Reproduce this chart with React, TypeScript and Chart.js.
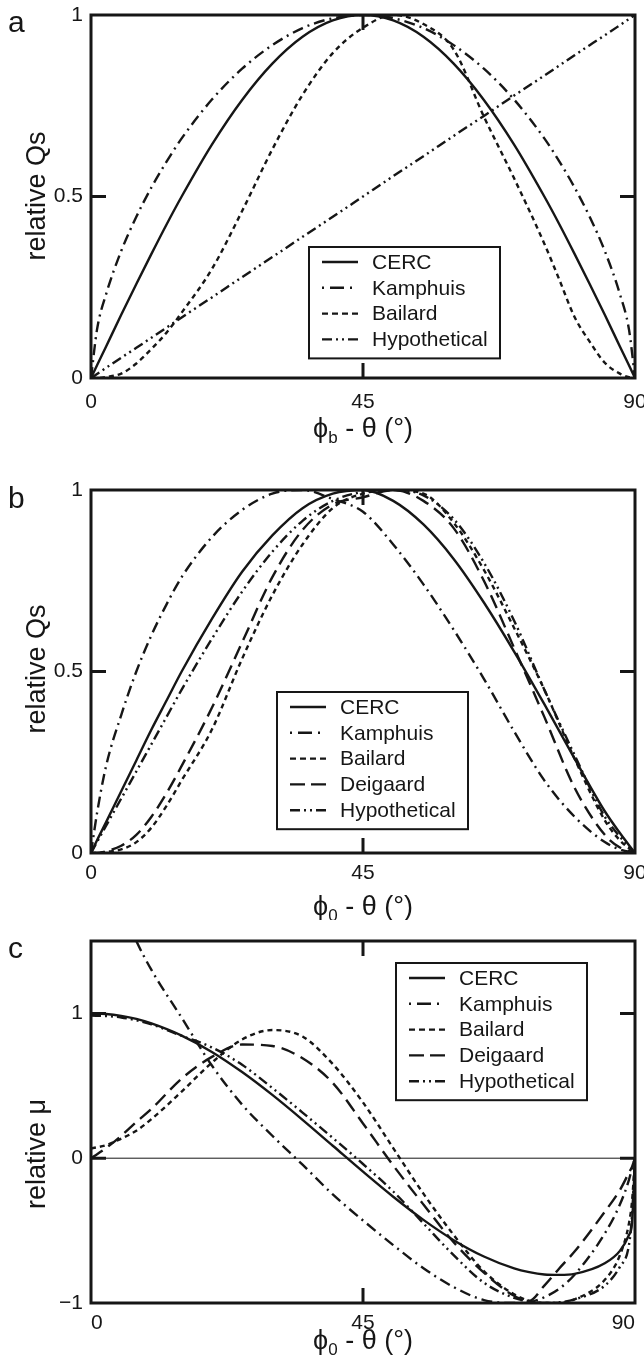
import React, { useEffect, useRef } from 'react';
import { Chart, registerables } from 'chart.js';

Chart.register(...registerables);

const INK = '#161616';
const FAMILY = "'Liberation Sans', Arial, Helvetica, sans-serif";

// ---------------- panel a : relative Qs vs phi_b - theta ----------------
const anglesA = [0, 1, 2.5, 5, 7.5, 10, 12.5, 15, 20, 25, 30, 35, 40, 45, 50, 55, 60, 65, 70, 75, 77.5, 80, 82.5, 85, 87.5, 89, 90];
const cercA = [0, 0.035, 0.087, 0.174, 0.259, 0.342, 0.423, 0.5, 0.643, 0.766, 0.866, 0.94, 0.985, 1.0, 0.985, 0.94, 0.866, 0.766, 0.643, 0.5, 0.423, 0.342, 0.259, 0.174, 0.087, 0.035, 0];
const kamphuisA = [0, 0.134, 0.231, 0.35, 0.444, 0.525, 0.596, 0.66, 0.767, 0.852, 0.917, 0.964, 0.991, 1.0, 0.991, 0.964, 0.917, 0.852, 0.767, 0.66, 0.596, 0.525, 0.444, 0.35, 0.231, 0.134, 0];
const bailardA = [0, 0, 0.003, 0.012, 0.04, 0.08, 0.125, 0.18, 0.3, 0.46, 0.63, 0.78, 0.895, 0.965, 1.0, 0.975, 0.905, 0.72, 0.55, 0.37, 0.27, 0.168, 0.1, 0.042, 0.012, 0.002, 0];
const hypotheticalA = [0, 0.011, 0.028, 0.056, 0.083, 0.111, 0.139, 0.167, 0.222, 0.278, 0.333, 0.389, 0.444, 0.5, 0.556, 0.611, 0.667, 0.722, 0.778, 0.833, 0.861, 0.889, 0.917, 0.944, 0.972, 0.989, 1.0];

// ---------------- panel b : relative Qs vs phi_0 - theta ----------------
const anglesB = [0, 1, 2.5, 5, 7.5, 10, 12.5, 15, 20, 25, 30, 35, 40, 45, 50, 55, 60, 65, 70, 75, 80, 85, 87.5, 90];
const cercB = [0, 0.035, 0.085, 0.17, 0.255, 0.34, 0.42, 0.5, 0.645, 0.775, 0.875, 0.95, 0.99, 1.0, 0.97, 0.905, 0.81, 0.69, 0.555, 0.41, 0.26, 0.115, 0.055, 0];
const kamphuisB = [0, 0.11, 0.24, 0.38, 0.5, 0.6, 0.685, 0.76, 0.87, 0.945, 0.99, 1.0, 0.975, 0.94, 0.85, 0.74, 0.615, 0.48, 0.335, 0.2, 0.1, 0.03, 0.01, 0];
const bailardB = [0, 0, 0.003, 0.01, 0.03, 0.07, 0.13, 0.2, 0.34, 0.535, 0.71, 0.85, 0.95, 0.99, 1.0, 0.99, 0.91, 0.78, 0.62, 0.45, 0.26, 0.09, 0.035, 0];
const deigaardB = [0, 0, 0.005, 0.02, 0.05, 0.1, 0.165, 0.24, 0.4, 0.58, 0.76, 0.89, 0.96, 0.98, 1.0, 0.97, 0.895, 0.75, 0.565, 0.375, 0.18, 0.05, 0.015, 0];
const hypotheticalB = [0, 0.03, 0.075, 0.15, 0.225, 0.3, 0.375, 0.45, 0.59, 0.72, 0.83, 0.915, 0.97, 0.995, 1.0, 0.985, 0.92, 0.8, 0.64, 0.45, 0.27, 0.1, 0.045, 0];

// ---------------- panel c : relative mu vs phi_0 - theta ----------------
const anglesC = [0, 2.5, 5, 7.5, 10, 15, 20, 25, 30, 35, 40, 45, 50, 55, 60, 65, 70, 72.5, 75, 77.5, 80, 85, 87.5, 89, 89.5, 90];
const cercC = [1.0, 0.996, 0.983, 0.962, 0.931, 0.847, 0.734, 0.595, 0.437, 0.265, 0.086, -0.093, -0.266, -0.426, -0.566, -0.679, -0.761, -0.787, -0.803, -0.806, -0.799, -0.726, -0.64, -0.53, -0.45, 0];
const kamphuisC = [null, 2.1, 1.75, 1.5, 1.3, 0.97, 0.64, 0.37, 0.155, -0.045, -0.25, -0.43, -0.6, -0.76, -0.89, -0.98, -1.0, -0.995, -0.96, -0.9, -0.805, -0.52, -0.32, -0.15, -0.07, 0];
const bailardC = [0.067, 0.09, 0.135, 0.19, 0.27, 0.46, 0.66, 0.82, 0.885, 0.84, 0.65, 0.385, 0.07, -0.245, -0.53, -0.78, -0.94, -0.985, -1.0, -1.0, -0.975, -0.84, -0.67, -0.45, -0.3, 0];
const deigaardC = [0, 0.07, 0.155, 0.25, 0.34, 0.55, 0.7, 0.785, 0.775, 0.69, 0.52, 0.24, -0.05, -0.32, -0.58, -0.79, -0.95, -0.985, -0.88, -0.76, -0.645, -0.37, -0.22, -0.1, -0.06, 0];
const hypotheticalC = [0.985, 0.982, 0.972, 0.952, 0.925, 0.845, 0.765, 0.645, 0.485, 0.315, 0.14, -0.04, -0.23, -0.45, -0.67, -0.86, -0.965, -0.99, -1.0, -0.995, -0.975, -0.88, -0.75, -0.6, -0.4, 0];

// ---------------- ticks ----------------
const xTicks = [0, 45, 90];
const xTickLabels = ['0', '45', '90'];
const yTicksQ = [0, 0.5, 1];
const yTickLabelsQ = ['0', '0.5', '1'];
const yTicksMu = [-1, 0, 1];
const yTickLabelsMu = ['\u22121', '0', '1'];

const DASH: Record<string, number[]> = {
  CERC: [],
  Kamphuis: [11, 5, 2, 5],
  Bailard: [5, 4],
  Deigaard: [14, 7],
  Hypothetical: [10, 4, 2, 4, 2, 4],
};
const LEGEND_DASH: Record<string, number[]> = {
  CERC: [],
  Kamphuis: [2, 6, 14, 6, 2, 200],
  Bailard: [6, 4],
  Deigaard: [15, 6, 15, 200],
  Hypothetical: [10, 4, 2, 4, 2, 4, 10, 200],
};

type Series = { label: string; values: (number | null)[] };
type PanelDef = {
  letter: string;
  canvasTop: number;
  height: number;
  padTop: number;
  plotBottom: number;
  angles: number[];
  series: Series[];
  yMin: number;
  yMax: number;
  yTicks: number[];
  yTickLabels: string[];
  innerX: number[];
  innerY: number[];
  yTitle: string;
  yTitleY: number;
  xSub: string;
  xTitleBase: number;
  xLabelPad: number;
  xAlign: string;
  letterBase: number;
  legend: { left: number; top: number; width: number };
  zeroLine: boolean;
};

const panels: PanelDef[] = [
  {
    letter: 'a', canvasTop: 0, height: 460, padTop: 15, plotBottom: 378,
    angles: anglesA,
    series: [
      { label: 'CERC', values: cercA },
      { label: 'Kamphuis', values: kamphuisA },
      { label: 'Bailard', values: bailardA },
      { label: 'Hypothetical', values: hypotheticalA },
    ],
    yMin: 0, yMax: 1, yTicks: yTicksQ, yTickLabels: yTickLabelsQ,
    innerX: [45], innerY: [0.5],
    yTitle: 'relative Qs', yTitleY: 196,
    xSub: 'b', xTitleBase: 437, xLabelPad: 12, xAlign: 'center', letterBase: 32,
    legend: { left: 309, top: 247, width: 191 },
    zeroLine: false,
  },
  {
    letter: 'b', canvasTop: 460, height: 460, padTop: 30, plotBottom: 393,
    angles: anglesB,
    series: [
      { label: 'CERC', values: cercB },
      { label: 'Kamphuis', values: kamphuisB },
      { label: 'Bailard', values: bailardB },
      { label: 'Deigaard', values: deigaardB },
      { label: 'Hypothetical', values: hypotheticalB },
    ],
    yMin: 0, yMax: 1, yTicks: yTicksQ, yTickLabels: yTickLabelsQ,
    innerX: [45], innerY: [0.5],
    yTitle: 'relative Qs', yTitleY: 209,
    xSub: '0', xTitleBase: 455, xLabelPad: 8, xAlign: 'center', letterBase: 48,
    legend: { left: 277, top: 232, width: 191 },
    zeroLine: false,
  },
  {
    letter: 'c', canvasTop: 920, height: 445, padTop: 21, plotBottom: 383,
    angles: anglesC,
    series: [
      { label: 'CERC', values: cercC },
      { label: 'Kamphuis', values: kamphuisC },
      { label: 'Bailard', values: bailardC },
      { label: 'Deigaard', values: deigaardC },
      { label: 'Hypothetical', values: hypotheticalC },
    ],
    yMin: -1, yMax: 1.5, yTicks: yTicksMu, yTickLabels: yTickLabelsMu,
    innerX: [45], innerY: [0, 1],
    yTitle: 'relative \u03bc', yTitleY: 234,
    xSub: '0', xTitleBase: 429, xLabelPad: 8, xAlign: 'inner', letterBase: 38,
    legend: { left: 396, top: 43, width: 191 },
    zeroLine: true,
  },
];

function makeDecor(p: PanelDef) {
  return {
    id: 'decor_' + p.letter,
    afterDatasetsDraw(chart: any) {
      const { ctx, chartArea: ca, scales } = chart;
      const xs = scales.x;
      const ys = scales.y;
      ctx.save();
      ctx.strokeStyle = INK;
      ctx.fillStyle = INK;
      ctx.setLineDash([]);
      if (p.zeroLine) {
        const y0 = ys.getPixelForValue(0);
        ctx.lineWidth = 1;
        ctx.beginPath();
        ctx.moveTo(ca.left, y0);
        ctx.lineTo(ca.right, y0);
        ctx.stroke();
      }
      // frame
      ctx.lineWidth = 3;
      ctx.strokeRect(ca.left, ca.top, ca.right - ca.left, ca.bottom - ca.top);
      // inward ticks
      const TL = 15;
      ctx.lineWidth = 3;
      ctx.beginPath();
      p.innerX.forEach((v) => {
        const x = xs.getPixelForValue(v);
        ctx.moveTo(x, ca.top);
        ctx.lineTo(x, ca.top + TL);
        ctx.moveTo(x, ca.bottom);
        ctx.lineTo(x, ca.bottom - TL);
      });
      p.innerY.forEach((v) => {
        const y = ys.getPixelForValue(v);
        ctx.moveTo(ca.left, y);
        ctx.lineTo(ca.left + TL, y);
        ctx.moveTo(ca.right, y);
        ctx.lineTo(ca.right - TL, y);
      });
      ctx.stroke();

      // legend
      const ds = chart.data.datasets;
      const L = p.legend;
      const rowGap = 25.8;
      const boxH = 15 + (ds.length - 1) * rowGap + 15 + 4;
      ctx.fillStyle = '#ffffff';
      ctx.fillRect(L.left, L.top, L.width, boxH);
      ctx.lineWidth = 2;
      ctx.strokeStyle = INK;
      ctx.strokeRect(L.left, L.top, L.width, boxH);
      ctx.font = `21px ${FAMILY}`;
      ctx.textBaseline = 'middle';
      ctx.textAlign = 'left';
      ctx.fillStyle = INK;
      ds.forEach((d: any, i: number) => {
        const cy = L.top + 15 + i * rowGap;
        ctx.setLineDash(LEGEND_DASH[d.label] || []);
        ctx.lineWidth = 2.4;
        ctx.beginPath();
        ctx.moveTo(L.left + 13, cy);
        ctx.lineTo(L.left + 49, cy);
        ctx.stroke();
        ctx.setLineDash([]);
        ctx.fillText(d.label, L.left + 63, cy + 1);
      });

      // panel letter
      ctx.font = `30px ${FAMILY}`;
      ctx.textBaseline = 'alphabetic';
      ctx.textAlign = 'left';
      ctx.fillText(p.letter, 8, p.letterBase);

      // y title
      ctx.save();
      ctx.font = `27px ${FAMILY}`;
      ctx.translate(45, p.yTitleY);
      ctx.rotate(-Math.PI / 2);
      ctx.textAlign = 'center';
      ctx.textBaseline = 'alphabetic';
      ctx.fillText(p.yTitle, 0, 0);
      ctx.restore();

      // x title with subscript
      const big = `27px ${FAMILY}`;
      const small = `17px ${FAMILY}`;
      const part1 = '\u03d5';
      const part3 = ' - \u03b8 (\u00b0)';
      ctx.font = big;
      const w1 = ctx.measureText(part1).width;
      const w3 = ctx.measureText(part3).width;
      ctx.font = small;
      const w2 = ctx.measureText(p.xSub).width;
      const total = w1 + w2 + w3;
      let x = (ca.left + ca.right) / 2 - total / 2;
      ctx.textAlign = 'left';
      ctx.font = big;
      ctx.fillText(part1, x, p.xTitleBase);
      x += w1;
      ctx.font = small;
      ctx.fillText(p.xSub, x, p.xTitleBase + 6);
      x += w2;
      ctx.font = big;
      ctx.fillText(part3, x, p.xTitleBase);
      ctx.restore();
    },
  };
}

function buildConfig(p: PanelDef): any {
  const datasets = p.series.map((s) => ({
    label: s.label,
    data: p.angles
      .map((a, i) => ({ x: a, y: s.values[i] }))
      .filter((pt) => pt.y !== null && pt.y !== undefined),
    borderColor: INK,
    borderWidth: 2.4,
    borderDash: DASH[s.label],
    borderCapStyle: 'butt',
    pointRadius: 0,
    fill: false,
    cubicInterpolationMode: 'monotone',
  }));
  const xBottomH = p.height - p.plotBottom;
  return {
    type: 'line',
    data: { datasets },
    options: {
      animation: false,
      responsive: false,
      maintainAspectRatio: false,
      layout: { padding: { top: p.padTop, right: 9, left: 0, bottom: 0 } },
      plugins: { legend: { display: false }, tooltip: { enabled: false }, title: { display: false } },
      scales: {
        x: {
          type: 'linear',
          min: 0,
          max: 90,
          grid: { display: false, drawTicks: false },
          border: { display: false },
          afterBuildTicks: (sc: any) => {
            sc.ticks = xTicks.map((v) => ({ value: v }));
          },
          ticks: {
            color: INK,
            font: { size: 21, family: FAMILY },
            padding: p.xLabelPad,
            align: p.xAlign,
            maxRotation: 0,
            callback: (v: number) => {
              const i = xTicks.indexOf(v);
              return i >= 0 ? xTickLabels[i] : '';
            },
          },
          afterFit: (sc: any) => {
            sc.height = xBottomH;
            sc.paddingLeft = 0;
            sc.paddingRight = 0;
          },
        },
        y: {
          type: 'linear',
          min: p.yMin,
          max: p.yMax,
          grid: { display: false, drawTicks: false },
          border: { display: false },
          afterBuildTicks: (sc: any) => {
            sc.ticks = p.yTicks.map((v) => ({ value: v }));
          },
          ticks: {
            color: INK,
            font: { size: 21, family: FAMILY },
            padding: 8,
            callback: (v: number) => {
              const i = p.yTicks.indexOf(v);
              return i >= 0 ? p.yTickLabels[i] : '';
            },
          },
          afterFit: (sc: any) => {
            sc.width = 91;
            sc.paddingTop = 0;
            sc.paddingBottom = 0;
          },
        },
      },
    },
    plugins: [makeDecor(p)],
  };
}

function Panel({ p }: { p: PanelDef }) {
  const ref = useRef<HTMLCanvasElement | null>(null);
  useEffect(() => {
    if (!ref.current) return;
    const chart = new Chart(ref.current, buildConfig(p));
    return () => chart.destroy();
  }, [p]);
  return (
    <canvas
      ref={ref}
      width={644}
      height={p.height}
      style={{ position: 'absolute', left: 0, top: p.canvasTop, width: 644, height: p.height, display: 'block' }}
    />
  );
}

export default function App() {
  return (
    <div style={{ position: 'absolute', left: 0, top: 0, width: 644, height: 1365, background: '#ffffff', overflow: 'hidden' }}>
      {panels.map((p) => (
        <Panel key={p.letter} p={p} />
      ))}
    </div>
  );
}
